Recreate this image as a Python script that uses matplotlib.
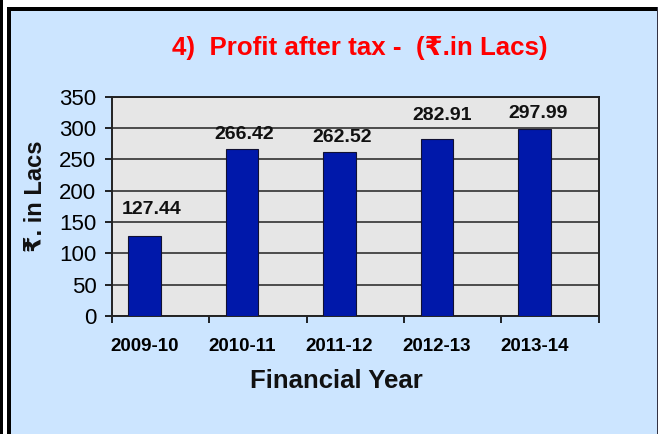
import matplotlib
matplotlib.use("Agg")
import matplotlib.pyplot as plt
from matplotlib.patches import Rectangle
from matplotlib.ticker import FixedLocator

# Data
years = ["2009-10", "2010-11", "2011-12", "2012-13", "2013-14"]
profit = [127.44, 266.42, 262.52, 282.91, 297.99]

# label nudges in pixels (dx, dy above bar top)
label_dx = [7, 2.5, 3, 5, 3.5]
label_dy = [18, 6, 6, 15, 7]

FONT = ["Liberation Sans", "DejaVu Sans"]
plt.rcParams["font.family"] = FONT

W, H = 659, 434
DPI = 100
PX = 72.0 / DPI  # pixels -> points


def fx(px):
    return px / W


def fy(py):
    return 1 - py / H


fig = plt.figure(figsize=(W / DPI, H / DPI), dpi=DPI, facecolor="white")

# outer panel and borders
fig.patches.append(Rectangle((fx(8), 0), fx(650), fy(7), transform=fig.transFigure,
                             facecolor="#CCE5FF", edgecolor="none", zorder=-2))
fig.patches.append(Rectangle((fx(7), fy(11)), fx(650), 4 / H, transform=fig.transFigure,
                             facecolor="black", edgecolor="none", zorder=-1))
fig.patches.append(Rectangle((fx(7), 0), 4 / W, fy(7), transform=fig.transFigure,
                             facecolor="black", edgecolor="none", zorder=-1))
fig.patches.append(Rectangle((0, 0), 3 / W, 1, transform=fig.transFigure,
                             facecolor="black", edgecolor="none", zorder=-1))
fig.patches.append(Rectangle((fx(657), 0), 1.2 / W, fy(7), transform=fig.transFigure,
                             facecolor="#333344", edgecolor="none", zorder=-1))

ax = fig.add_axes([fx(111.7), fy(316), fx(599.3) - fx(111.7), fy(96.7) - fy(316)])
ax.set_zorder(5)
ax.set_facecolor("#E6E6E6")

x = list(range(len(years)))
ax.bar(x, profit, width=0.333, color="#0018AA", edgecolor="#111133", linewidth=0.8, zorder=3)

ax.set_xlim(-0.337, 4.667)
ax.set_ylim(0, 350)
ax.set_yticks(range(0, 351, 50))
ax.yaxis.grid(True, color="#222222", linewidth=1.1, zorder=1)
ax.set_axisbelow(True)

ax.set_xticks(x)
ax.set_xticklabels(years, fontsize=13.5, fontweight="bold")
ax.xaxis.set_minor_locator(FixedLocator([-0.337 + k for k in range(6)]))
ax.tick_params(axis="x", which="major", length=0, pad=15.5)
ax.tick_params(axis="x", which="minor", length=5, width=1.2, direction="out")
ax.tick_params(axis="y", length=5, width=1.2, direction="out", labelsize=16, pad=6)

for s in ax.spines.values():
    s.set_color("#222222")
    s.set_linewidth(1.4)

for i, v in enumerate(profit):
    ax.annotate(f"{v:.2f}", (i, v), xytext=(label_dx[i] * PX, label_dy[i] * PX),
                textcoords="offset points", ha="center", va="bottom",
                fontsize=14, fontweight="bold", color="#111111")

fig.text(fx(360), fy(48), "4)  Profit after tax -  (₹.in Lacs)", color="#FF0000",
         fontsize=18.6, fontweight="bold", ha="center", va="center")
fig.text(fx(36), fy(196), "₹. in Lacs", rotation=90, fontsize=17, fontweight="bold",
         ha="center", va="center", color="#111111")
fig.text(fx(336.5), fy(381), "Financial Year", fontsize=18.5, fontweight="bold",
         ha="center", va="center", color="#111111")

fig.savefig("out.png", dpi=DPI, facecolor="white")
